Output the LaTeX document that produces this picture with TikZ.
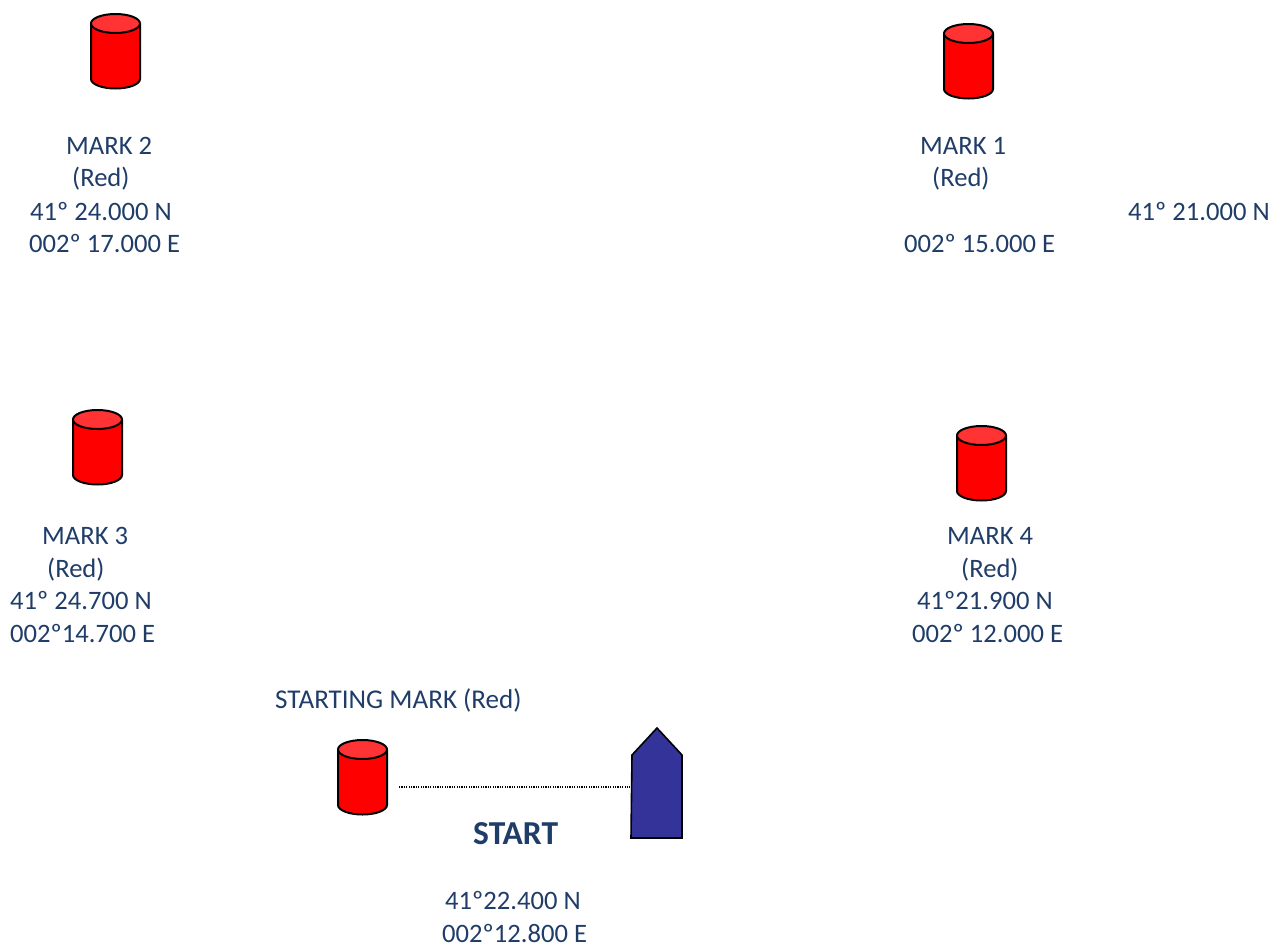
\documentclass[tikz,border=0pt]{standalone}
\usepackage{fontspec}
\setmainfont{Carlito}
\definecolor{txtblue}{HTML}{1F3D68}
\definecolor{cyltop}{HTML}{FF3333}
\definecolor{boatblue}{HTML}{333399}
\tikzset{
  lab/.style={anchor=base west,inner sep=0pt,yshift=-1pt,text=txtblue,font=\fontsize{26.6}{26.6}\selectfont},
  widelab/.style={lab,font=\fontsize{27.1}{27.1}\selectfont},
  boldlab/.style={lab,font=\fontsize{33.5}{33.5}\selectfont\bfseries},
  outl/.style={draw=black,line width=2pt,line join=round},
  buoy/.pic={
    \path[outl,fill=red] (-24.5,0) -- (-24.5,55.5) arc[start angle=180,end angle=0,x radius=24.5,y radius=9.5] -- (24.5,0) -- cycle;
    \path[outl,fill=cyltop] (0,0) ellipse[x radius=24.5,y radius=9.5];
  }
}
\begin{document}
\begin{tikzpicture}[x=1pt,y=-1pt]
\useasboundingbox (0,0) rectangle (1271,945);
\pic at (115.5,23.5) {buoy};
\pic at (968.5,33.5) {buoy};
\pic at (97.5,419.5) {buoy};
\pic at (981.5,435.5) {buoy};
\pic at (362.5,749.5) {buoy};
\node[lab] (m2a) at (66,153) {MARK 2};
\node[lab] (m2b) at (72,185) {(Red)};
\node[lab] (m2c) at (30,219) {41º 24.000 N};
\node[lab] (m2d) at (29,251) {002º 17.000 E};
\node[lab] (m1a) at (920,153) {MARK 1};
\node[lab] (m1b) at (932,185) {(Red)};
\node[lab] (m1c) at (1128,219) {41º 21.000 N};
\node[lab] (m1d) at (904,251) {002º 15.000 E};
\node[lab] (m3a) at (42,543) {MARK 3};
\node[lab] (m3b) at (47,576) {(Red)};
\node[lab] (m3c) at (10,608) {41º 24.700 N};
\node[lab] (m3d) at (10,641) {002º14.700 E};
\node[lab] (m4a) at (947,543) {MARK 4};
\node[lab] (m4b) at (961,576) {(Red)};
\node[lab] (m4c) at (917,608) {41º21.900 N};
\node[lab] (m4d) at (912,641) {002º 12.000 E};
\node[widelab] (sm) at (275,707) {STARTING MARK (Red)};
\node[boldlab] (st) at (473,843) {START};
\node[lab] (sc) at (445,908) {41º22.400 N};
\node[lab] (sd) at (442,941.5) {002º12.800 E};
\coordinate (boat) at (630,787);
\coordinate (buoyS) at (399,787);
\path[draw=black,line width=1.6pt,fill=boatblue,line join=miter] (632,755) -- (657,728) -- (682,755) -- (682,838) -- (631,838) -- cycle;
\draw[black,line width=1.2pt,dash pattern=on 1.2pt off 1.2pt] (buoyS) -- (boat);
\end{tikzpicture}
\end{document}
